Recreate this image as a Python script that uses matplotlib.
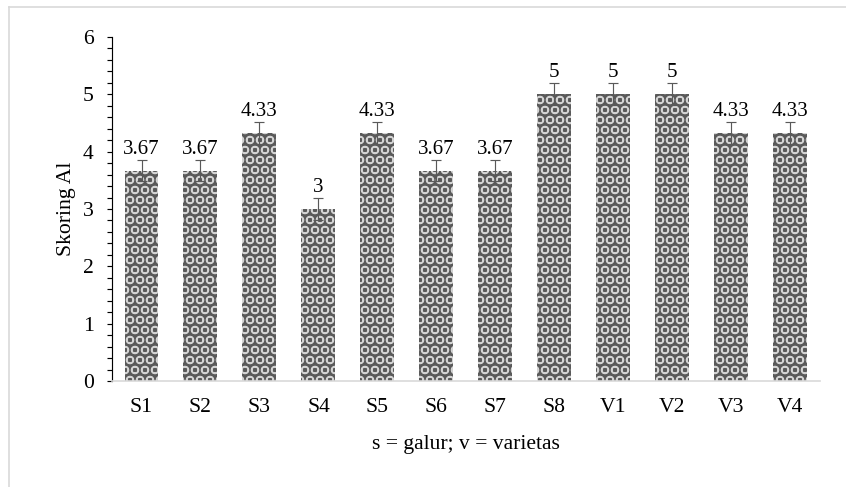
import numpy as np
import matplotlib.pyplot as plt
from matplotlib.lines import Line2D
from matplotlib.ticker import MultipleLocator

plt.rcParams['font.family'] = ['Liberation Serif', 'DejaVu Serif']
plt.rcParams['hatch.linewidth'] = 0.9

# data
labels = ['S1', 'S2', 'S3', 'S4', 'S5', 'S6', 'S7', 'S8', 'V1', 'V2', 'V3', 'V4']
scores = [3.67, 3.67, 4.33, 3, 4.33, 3.67, 3.67, 5, 5, 5, 4.33, 4.33]
score_text = ['3.67', '3.67', '4.33', '3', '4.33', '3.67', '3.67', '5', '5', '5', '4.33', '4.33']
errors = [0.19] * 12

# dpi 120 so the hatch circles come out ~10 px apart
fig = plt.figure(figsize=(846 / 120, 487 / 120), dpi=120)
ax = fig.add_axes([0.1324, 0.2177, 0.8366, 0.7063])

x = np.arange(len(labels))
ax.bar(x, scores, width=0.576, color='#5a5a5a', edgecolor='#d4d4d4',
       hatch='OO', linewidth=0, zorder=2)
ax.errorbar(x, scores, yerr=errors, fmt='none', ecolor='#595959',
            elinewidth=0.7, capsize=3, capthick=0.7, zorder=3)

for xi, s, t in zip(x, scores, score_text):
    ax.text(xi, s + 0.21, t, ha='center', va='bottom', fontsize=12.5)

ax.set_xlim(-0.5, 11.5)
ax.set_ylim(0, 6)
ax.yaxis.set_major_locator(MultipleLocator(1))
ax.yaxis.set_minor_locator(MultipleLocator(0.2))
ax.set_xticks(x)
ax.set_xticklabels(labels, fontsize=13)
ax.tick_params(axis='y', which='major', length=3, width=0.7, labelsize=13, pad=8)
ax.tick_params(axis='y', which='minor', length=3, width=0.7)
ax.tick_params(axis='x', length=0, pad=10)

for sp in ['top', 'right']:
    ax.spines[sp].set_visible(False)
ax.spines['left'].set_color('black')
ax.spines['left'].set_linewidth(0.7)
ax.spines['bottom'].set_color('#d9d9d9')
ax.spines['bottom'].set_linewidth(1.0)

ax.set_ylabel('Skoring Al', fontsize=13, labelpad=4)
ax.set_xlabel('s = galur; v = varietas', fontsize=13, labelpad=11)

# light frame around the chart area
fig.add_artist(Line2D([9 / 846, 9 / 846], [0, 1 - 7 / 487], color='#d9d9d9', lw=1.0))
fig.add_artist(Line2D([9 / 846, 1], [1 - 7 / 487, 1 - 7 / 487], color='#d9d9d9', lw=1.0))

fig.savefig('out.png', dpi=120)
